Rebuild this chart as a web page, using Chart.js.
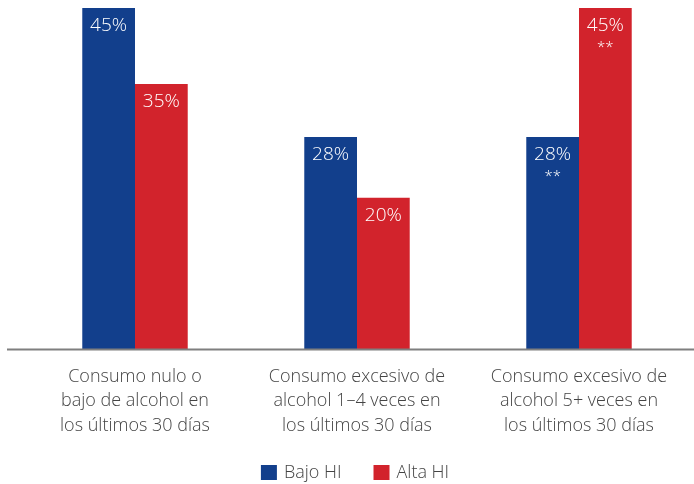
<!DOCTYPE html>
<html>
<head>
<meta charset="utf-8">
<script src="https://cdn.jsdelivr.net/npm/chart.js@4/dist/chart.umd.min.js"></script>
<style>
    html, body { margin: 0; background: #fff; overflow: hidden; }
    #grafico { display: block; }
</style>
</head>
<body>
<canvas id="grafico" width="694" height="484"></canvas>
<script>
// Datos del gráfico
const categorias = [
    ['Consumo nulo o', 'bajo de alcohol en', 'los últimos 30 días'],
    ['Consumo excesivo de', 'alcohol 1–4 veces en', 'los últimos 30 días'],
    ['Consumo excesivo de', 'alcohol 5+ veces en', 'los últimos 30 días']
];
const bajoHI = [45, 28, 28];
const altaHI = [35, 20, 45];
const marcasBajo = ['', '', '**'];
const marcasAlta = ['', '', '**'];

const AZUL = '#123f8c';
const ROJO = '#d2232c';
const FUENTE = "'Open Sans', 'Noto Sans', sans-serif";
const TEXTO = '#444';

// etiquetas blancas dentro de las barras
const etiquetasPlugin = {
    id: 'etiquetas',
    afterDatasetsDraw(chart) {
        const ctx = chart.ctx;
        ctx.save();
        ctx.fillStyle = '#ffffff';
        ctx.textAlign = 'center';
        ctx.textBaseline = 'middle';
        chart.data.datasets.forEach((ds, i) => {
            const meta = chart.getDatasetMeta(i);
            meta.data.forEach((bar, j) => {
                ctx.font = '300 19px ' + FUENTE;
                ctx.fillText(ds.data[j] + '%', bar.x, bar.y + 18);
                if (ds.marcas[j]) {
                    ctx.font = '300 15px ' + FUENTE;
                    ctx.fillText(ds.marcas[j], bar.x, bar.y + 40);
                }
            });
        });
        ctx.restore();
    }
};

// linea base que cruza todo el ancho
const lineaBasePlugin = {
    id: 'lineaBase',
    afterDatasetsDraw(chart) {
        const ctx = chart.ctx;
        const y = chart.scales.y.getPixelForValue(0);
        ctx.save();
        ctx.strokeStyle = '#7f7f7f';
        ctx.lineWidth = 2;
        ctx.beginPath();
        ctx.moveTo(7, y);
        ctx.lineTo(694, y);
        ctx.stroke();
        ctx.restore();
    }
};

// leyenda dibujada a mano para controlar tamaños y separaciones
const leyendaPlugin = {
    id: 'leyenda',
    afterDraw(chart) {
        const ctx = chart.ctx;
        const centroX = 355, centroY = 472.5;
        const caja = 16, sepTexto = 7, sepItem = 32;
        ctx.save();
        ctx.font = '300 18px ' + FUENTE;
        ctx.textBaseline = 'middle';
        const items = chart.data.datasets.map(ds => ({
            texto: ds.label,
            color: ds.backgroundColor,
            ancho: caja + sepTexto + ctx.measureText(ds.label).width
        }));
        const total = items.reduce((s, it) => s + it.ancho, 0) + sepItem * (items.length - 1);
        let x = centroX - total / 2;
        items.forEach(it => {
            ctx.fillStyle = it.color;
            ctx.fillRect(x, centroY - 7.5, caja, 15);
            ctx.fillStyle = TEXTO;
            ctx.fillText(it.texto, x + caja + sepTexto, centroY);
            x += it.ancho + sepItem;
        });
        ctx.restore();
    }
};

new Chart(document.getElementById('grafico'), {
    type: 'bar',
    data: {
        labels: categorias,
        datasets: [
            { label: 'Bajo HI', data: bajoHI, marcas: marcasBajo, backgroundColor: AZUL },
            { label: 'Alta HI', data: altaHI, marcas: marcasAlta, backgroundColor: ROJO }
        ]
    },
    options: {
        responsive: false,
        animation: false,
        layout: { padding: { top: 8, left: 24, right: 4, bottom: 31 } },
        datasets: {
            bar: { categoryPercentage: 0.475, barPercentage: 1 }
        },
        plugins: {
            legend: { display: false },
            tooltip: { enabled: false }
        },
        scales: {
            x: {
                grid: { display: false, drawTicks: false },
                border: { display: false },
                ticks: {
                    color: TEXTO,
                    padding: 15,
                    maxRotation: 0,
                    font: { family: FUENTE, size: 18, weight: '300', lineHeight: 1.36 }
                }
            },
            y: {
                display: false,
                min: 0,
                max: 45
            }
        }
    },
    plugins: [etiquetasPlugin, lineaBasePlugin, leyendaPlugin]
});
</script>
</body>
</html>
